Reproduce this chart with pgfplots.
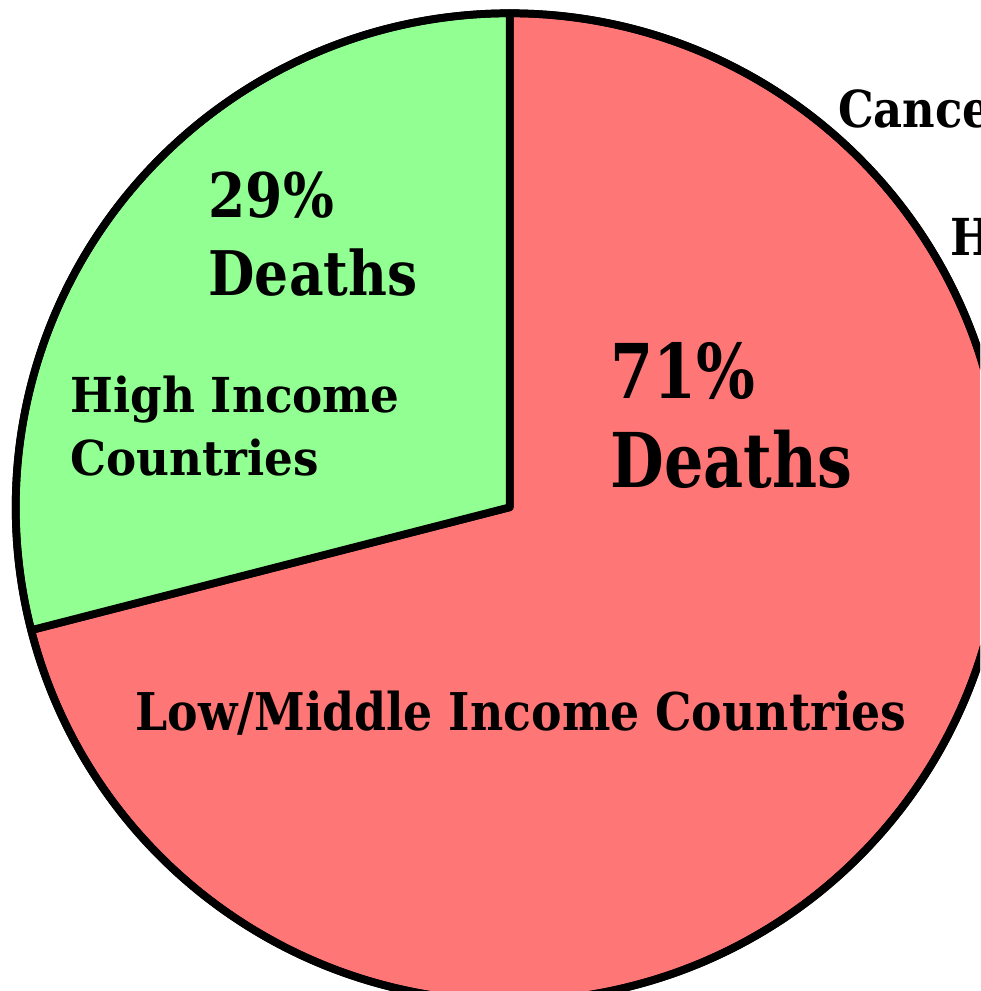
\documentclass[border=0pt]{standalone}
\usepackage{pgfplots}
\pgfplotsset{compat=1.18}
\usepackage{fontspec}
\usepackage{graphicx}
\setmainfont{DejaVu Serif}
\definecolor{pgreen}{RGB}{146,255,146}
\definecolor{pred}{RGB}{255,118,118}
% data: share of cancer deaths (%)
\def\highshare{29}
\def\lowshare{71}
\begin{document}
\begin{tikzpicture}
\useasboundingbox (0,0) rectangle (9.80,9.91);
\clip (0,0) rectangle (9.80,9.91);
\pgfmathsetmacro{\splitang}{90+\highshare*3.6}
\pgfmathsetmacro{\endang}{\splitang+\lowshare*3.6}
\begin{axis}[at={(0,0)}, anchor=south west, x=0.01cm, y=0.01cm,
  xmin=0, xmax=980, ymin=0, ymax=991, y dir=reverse,
  hide axis, scale only axis, clip=false]
\filldraw[fill=pred, draw=black, line width=2.2pt, line join=round]
  (axis cs:510,507) -- ++(\splitang:4.94cm) arc[start angle=\splitang, end angle=\endang, radius=4.94cm] -- cycle;
\filldraw[fill=pgreen, draw=black, line width=2.2pt, line join=round]
  (axis cs:510,507) -- ++(90:4.94cm) arc[start angle=90, end angle=\splitang, radius=4.94cm] -- cycle;
\draw[line width=2.2pt] (axis cs:510,507) circle[radius=4.94cm];
\tikzset{lab/.style={anchor=base west, inner sep=0pt, font=\bfseries}}
\node[lab, font=\bfseries\fontsize{17.5}{20}\selectfont] at (axis cs:208,217) {\scalebox{0.87}[1]{\highshare\%}};
\node[lab, font=\bfseries\fontsize{17.5}{20}\selectfont] at (axis cs:208,295) {\scalebox{0.87}[1]{Deaths}};
\node[lab, font=\bfseries\fontsize{13.7}{16}\selectfont] at (axis cs:70,412) {\scalebox{0.94}[1]{High Income}};
\node[lab, font=\bfseries\fontsize{13.7}{16}\selectfont] at (axis cs:70,475) {\scalebox{0.94}[1]{Countries}};
\node[lab, font=\bfseries\fontsize{21.5}{24}\selectfont] at (axis cs:610,398) {\scalebox{0.82}[1]{\lowshare\%}};
\node[lab, font=\bfseries\fontsize{21.5}{24}\selectfont] at (axis cs:610,487) {\scalebox{0.82}[1]{Deaths}};
\node[lab, font=\bfseries\fontsize{14.8}{17}\selectfont] at (axis cs:135,730) {\scalebox{0.88}[1]{Low/Middle Income Countries}};
\node[lab, font=\bfseries\fontsize{14.5}{17}\selectfont] at (axis cs:838,127) {\scalebox{0.88}[1]{Cancer Deaths}};
\node[lab, font=\bfseries\fontsize{14.5}{17}\selectfont] at (axis cs:950,255) {\scalebox{0.88}[1]{High Income}};
\end{axis}
\end{tikzpicture}
\end{document}
